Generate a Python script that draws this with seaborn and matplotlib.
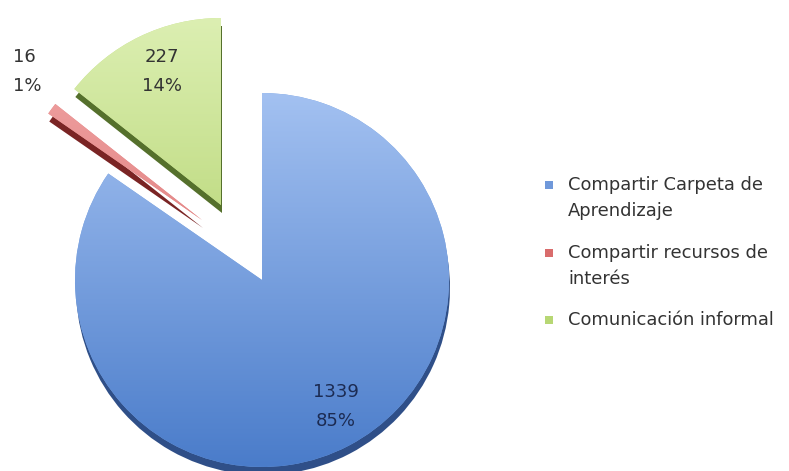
import numpy as np
import matplotlib
matplotlib.use("Agg")
import matplotlib.pyplot as plt
from matplotlib.patches import Rectangle
import seaborn as sns
from matplotlib.colors import LinearSegmentedColormap

categories = ["Compartir Carpeta de\nAprendizaje", "Compartir recursos de\ninterés", "Comunicación informal"]
values = [1339, 16, 227]
percents = ["85%", "1%", "14%"]

sns.set_theme(style="white")
plt.rcParams['font.family'] = ['DejaVu Sans']

W, H = 789, 471
fig = plt.figure(figsize=(W / 100, H / 100), dpi=100)
ax = fig.add_axes([0, 0, 1, 1])

# layout (pixel units, y up)
center = (262, H - 280)
R = 187
offsets = [(0, 0), (-60, 60), (-41, 75)]      # exploded slice displacement
depth = (1, -8)                              # 3D thickness offset
top_colors = ['#a3c1f1', '#f2a7a7', '#dcefb2']
bot_colors = ['#4a7cca', '#d66a6a', '#a9cc5e']
base_colors = ['#7aa3e0', '#e68a8a', '#c6e08a']
edge_colors = ['#2f4f88', '#7a2424', '#55702c']
legend_colors = ['#6f98da', '#d96c6c', '#b7d774']

shadow, _ = ax.pie(values, startangle=90, counterclock=False,
                   center=(center[0] + depth[0], center[1] + depth[1]), radius=R,
                   colors=edge_colors, wedgeprops=dict(linewidth=0))
wedges, _ = ax.pie(values, startangle=90, counterclock=False,
                   center=center, radius=R, colors=base_colors,
                   wedgeprops=dict(linewidth=0))
for s, w, (dx, dy) in zip(shadow, wedges, offsets):
    sx, sy = s.center
    s.set_center((sx + dx, sy + dy))
    wx, wy = w.center
    w.set_center((wx + dx, wy + dy))

grad = np.linspace(0, 1, 256).reshape(-1, 1)
for w, tc, bc in zip(wedges, top_colors, bot_colors):
    cmap = LinearSegmentedColormap.from_list('g', [bc, tc])
    cx, cy = w.center
    im = ax.imshow(grad, extent=(cx - R, cx + R, cy - R, cy + R), origin='lower',
                   cmap=cmap, aspect='auto', zorder=w.get_zorder() + 0.1)
    im.set_clip_path(w)

# value labels (pixel positions, y measured from top)
label_pos = [(336, 392, 'center', '#1c2b52'), (13, 57, 'left', '#333333'), (162, 57, 'center', '#333333')]
for v, p, (x, y, ha, col) in zip(values, percents, label_pos):
    ax.text(x, H - y, str(v), ha=ha, va='center', fontsize=13, color=col, zorder=10)
    ax.text(x, H - y - 29, p, ha=ha, va='center', fontsize=13, color=col, zorder=10)

# legend
y = 185
for cat, col in zip(categories, legend_colors):
    ax.add_patch(Rectangle((545, H - y - 4), 8, 8, facecolor=col, edgecolor='none', zorder=10))
    for line in cat.split("\n"):
        ax.text(568, H - y, line, ha='left', va='center', fontsize=12.9, color='#333333', zorder=10)
        y += 26.5
    y += 41 - 26.5

ax.set_xlim(0, W)
ax.set_ylim(0, H)
ax.set_aspect('auto')
ax.axis('off')
fig.savefig('out.png', dpi=100, facecolor='white')
